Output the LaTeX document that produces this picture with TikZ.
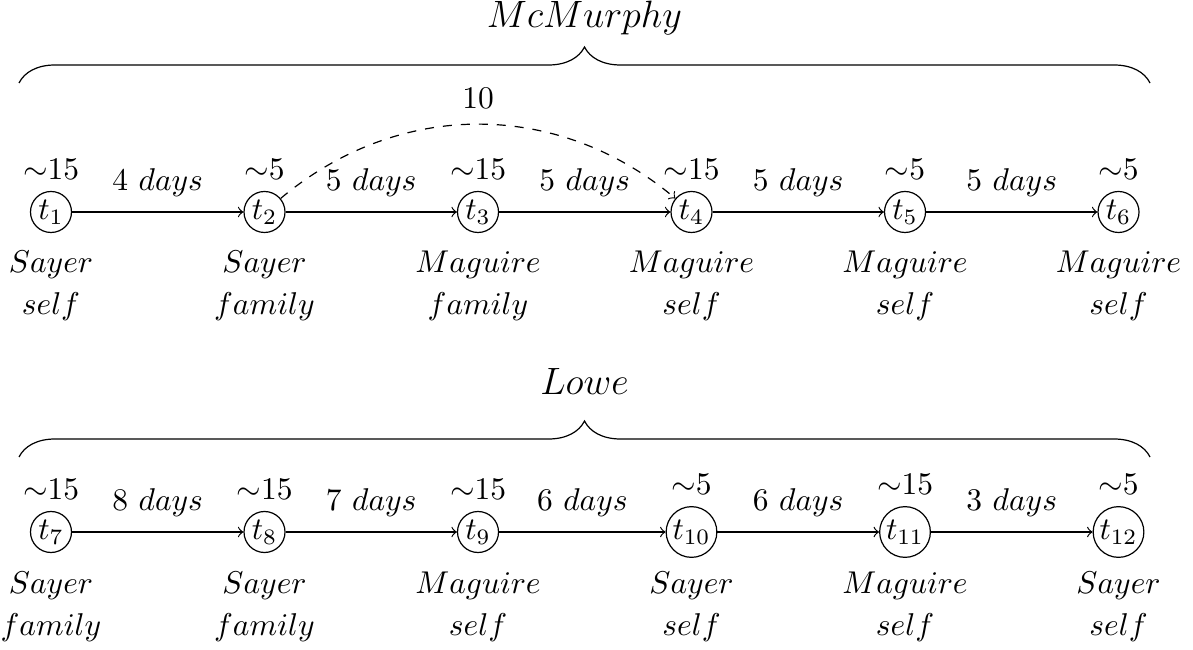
\documentclass[tikz,border=0pt]{standalone}
\usepackage{fix-cm}
\usetikzlibrary{decorations.pathreplacing}
\begin{document}
\begin{tikzpicture}[x=0.33333pt, y=-0.33333pt,
  every node/.style={font=\fontsize{10.5}{12.6}\selectfont},
  st/.style={circle, draw, inner sep=0.7pt},
  bigl/.style={label distance=2pt},
  elab/.style={above, yshift=1.5pt},
  who/.style={anchor=base, inner sep=0pt},
  bigtxt/.style={font=\fontsize{12.7}{15}\selectfont},
  brc/.style={decorate, decoration={brace, amplitude=12pt}},
  arr/.style={->},
  darr/.style={->, dashed}]
\useasboundingbox (0,0) rectangle (1193,650);

% ---------- top row ----------
\node[st, label=above:{$\sim$15}] (t1) at (51,212)    {$t_1$};
\node[st, label=above:{$\sim$5}]  (t2) at (264.5,212) {$t_2$};
\node[st, label=above:{$\sim$15}] (t3) at (478,212)   {$t_3$};
\node[st, label=above:{$\sim$15}] (t4) at (691.5,212) {$t_4$};
\node[st, label=above:{$\sim$5}]  (t5) at (905,212)   {$t_5$};
\node[st, label=above:{$\sim$5}]  (t6) at (1118.5,212){$t_6$};

\draw[arr] (t1) -- node[elab] {$4\ days$} (t2);
\draw[arr] (t2) -- node[elab] {$5\ days$} (t3);
\draw[arr] (t3) -- node[elab] {$5\ days$} (t4);
\draw[arr] (t4) -- node[elab] {$5\ days$} (t5);
\draw[arr] (t5) -- node[elab] {$5\ days$} (t6);
\draw[darr] (t2) to[bend left=40] node[elab] {10} (t4);

\node[who] (a1) at (51,273)    {$Sayer$};
\node[who] (b1) at (51,315)    {$self$};
\node[who] (a2) at (264.5,273) {$Sayer$};
\node[who] (b2) at (264.5,315) {$family$};
\node[who] (a3) at (478,273)   {$Maguire$};
\node[who] (b3) at (478,315)   {$family$};
\node[who] (a4) at (691.5,273) {$Maguire$};
\node[who] (b4) at (691.5,315) {$self$};
\node[who] (a5) at (905,273)   {$Maguire$};
\node[who] (b5) at (905,315)   {$self$};
\node[who] (a6) at (1118.5,273){$Maguire$};
\node[who] (b6) at (1118.5,315){$self$};

\coordinate (bra) at (19,83);
\coordinate (brb) at (1150,83);
\draw[brc] (bra) -- (brb);
\node[who, bigtxt] (mcm) at (584.5,28) {$McMurphy$};

% ---------- bottom row ----------
\node[st, label=above:{$\sim$15}] (t7) at (51,532)    {$t_7$};
\node[st, label=above:{$\sim$15}] (t8) at (264.5,532) {$t_8$};
\node[st, label=above:{$\sim$15}] (t9) at (478,532)   {$t_9$};
\node[st, bigl, label=above:{$\sim$5}]  (t10) at (691.5,532) {$t_{10}$};
\node[st, bigl, label=above:{$\sim$15}] (t11) at (905,532)   {$t_{11}$};
\node[st, bigl, label=above:{$\sim$5}]  (t12) at (1118.5,532){$t_{12}$};

\draw[arr] (t7) -- node[elab] {$8\ days$} (t8);
\draw[arr] (t8) -- node[elab] {$7\ days$} (t9);
\draw[arr] (t9) -- node[elab] {$6\ days$} (t10);
\draw[arr] (t10) -- node[elab] {$6\ days$} (t11);
\draw[arr] (t11) -- node[elab] {$3\ days$} (t12);

\node[who] (a7)  at (51,593)    {$Sayer$};
\node[who] (b7)  at (51,635)    {$family$};
\node[who] (a8)  at (264.5,593) {$Sayer$};
\node[who] (b8)  at (264.5,635) {$family$};
\node[who] (a9)  at (478,593)   {$Maguire$};
\node[who] (b9)  at (478,635)   {$self$};
\node[who] (a10) at (691.5,593) {$Sayer$};
\node[who] (b10) at (691.5,635) {$self$};
\node[who] (a11) at (905,593)   {$Maguire$};
\node[who] (b11) at (905,635)   {$self$};
\node[who] (a12) at (1118.5,593){$Sayer$};
\node[who] (b12) at (1118.5,635){$self$};

\coordinate (brc1) at (19,457);
\coordinate (brc2) at (1150,457);
\draw[brc] (brc1) -- (brc2);
\node[who, bigtxt] (lowe) at (584.5,395) {$Lowe$};
\end{tikzpicture}
\end{document}
